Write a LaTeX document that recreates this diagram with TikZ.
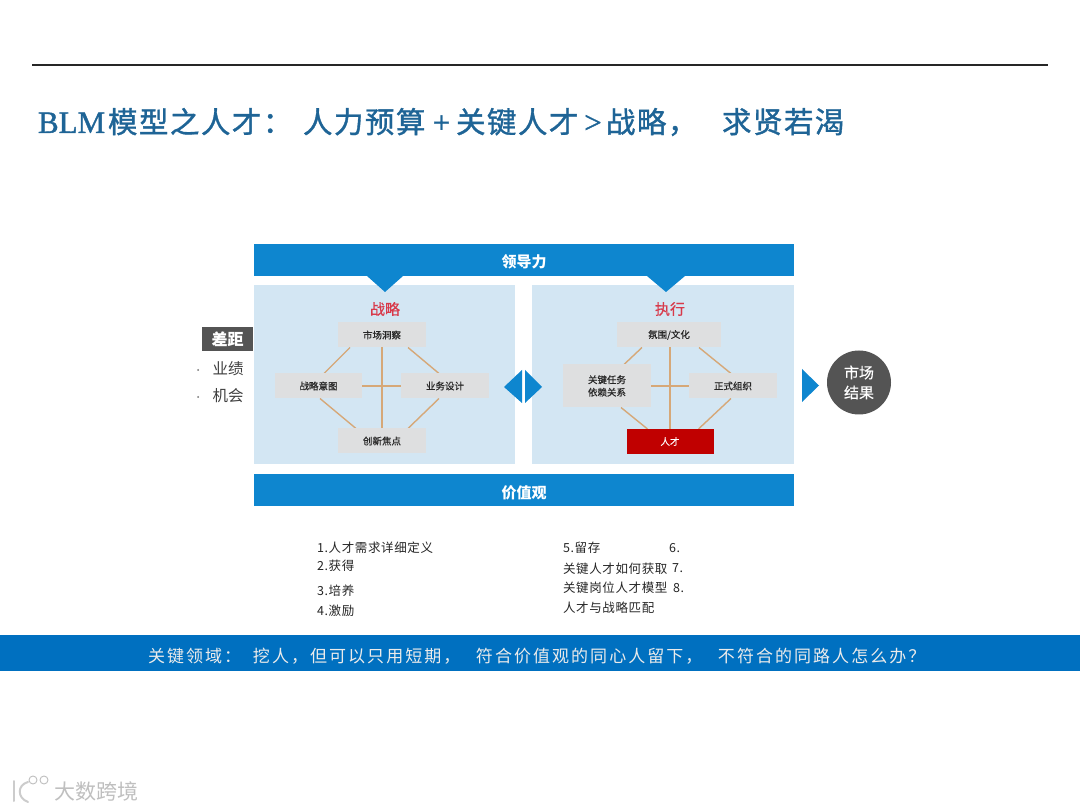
\documentclass[tikz,border=0pt]{standalone}
\usepackage{fontspec}
\setmainfont{Noto Sans CJK SC}
\newfontfamily\latinserif[FakeBold=1.2]{Liberation Serif}
\newfontfamily\widecjk[LetterSpace=5,FakeBold=1.2]{Noto Sans CJK SC}
\newfontfamily\boldish[FakeBold=0.5]{Noto Sans CJK SC}
\newfontfamily\listcjk[LetterSpace=5]{Noto Sans CJK SC}
\newfontfamily\bandcjk[LetterSpace=12]{Noto Sans CJK SC}
\definecolor{barblue}{HTML}{0E86CF}
\definecolor{panelblue}{HTML}{D3E6F3}
\definecolor{boxgray}{HTML}{DEDFE0}
\definecolor{linkorange}{HTML}{D6A878}
\definecolor{darkgray}{HTML}{545454}
\definecolor{titleblue}{HTML}{1E6496}
\definecolor{bandblue}{HTML}{0070C0}
\definecolor{talentred}{HTML}{C00000}
\definecolor{headred}{HTML}{D8394A}
\newcommand{\seg}[2]{\makebox[#1pt][l]{#2}}
\newcommand{\bigserif}{\latinserif\fontsize{31}{32}\selectfont}
\tikzset{
  x=1pt,y=-1pt,
  px/.style={inner sep=0pt,outer sep=0pt},
  bar/.style={px,fill=barblue,text=white,font=\fontsize{15}{17}\selectfont\bfseries,minimum width=540pt,minimum height=32pt},
  panel/.style={px,fill=panelblue,minimum height=179pt},
  cell/.style={px,fill=boxgray,text=black!85,font=\fontsize{9.5}{12.5}\selectfont\boldish,align=center,minimum width=88pt,minimum height=25pt},
  head/.style={px,text=headred,font=\fontsize{15}{17}\selectfont\boldish},
  link/.style={draw=linkorange,line width=1.4pt},
  tri/.style={fill=barblue},
  listitem/.style={px,anchor=west,text=black!85,text height=9pt,text depth=3pt,font=\fontsize{12.5}{14}\selectfont\listcjk},
  sidetext/.style={px,text=black!75,font=\fontsize{15.5}{18}\selectfont},
}
\begin{document}
\begin{tikzpicture}
\useasboundingbox (0,0) rectangle (1080,810);
\fill[white] (0,0) rectangle (1080,810);
% top rule
\coordinate (ruleL) at (32,65);
\coordinate (ruleR) at (1048,65);
\draw[black!85,line width=1.3pt] (ruleL) -- (ruleR);
% title
\node[px,anchor=west,text=titleblue,font=\fontsize{29.5}{32}\selectfont] (title) at (38,122)
 {\seg{70}{\bigserif BLM}\seg{195}{\widecjk 模型之人才：}\seg{124}{\widecjk 人力预算}\makebox[29pt]{\bigserif +}\seg{124}{\widecjk 关键人才}\makebox[26pt]{\bigserif >}\seg{116}{\widecjk 战略，}{\widecjk 求贤若渴}};
% panels
\node[panel,minimum width=261pt] (panelL) at (384.5,374.5) {};
\node[panel,minimum width=262pt] (panelR) at (663,374.5) {};
% bars
\node[bar] (leader) at (524,260) {\raisebox{-2.5pt}[13pt][2pt]{领导力}};
\node[bar] (values) at (524,490) {\raisebox{-2.5pt}[13pt][2pt]{价值观}};
\fill[tri] (367,276) -- (385,292) -- (403,276) -- cycle;
\fill[tri] (647,276) -- (666,292) -- (685,276) -- cycle;
% heads
\node[head] (hL) at (385,309) {战略};
\node[head] (hR) at (670,309) {执行};
% left cells: links underneath, boxes named first for anchors
\path (382,335) node[px,minimum width=88pt,minimum height=25pt] (a1) {}
      (318.5,386) node[px,minimum width=87pt,minimum height=25pt] (a2) {}
      (445,386) node[px,minimum width=88pt,minimum height=25pt] (a3) {}
      (382,441) node[px,minimum width=88pt,minimum height=25pt] (a4) {};
\draw[link] ([xshift=12pt]a1.south west) -- ([xshift=49pt]a2.north west);
\draw[link] ([xshift=-18pt]a1.south east) -- ([xshift=38pt]a3.north west);
\draw[link] ([xshift=45pt]a2.south west) -- ([xshift=18pt]a4.north west);
\draw[link] ([xshift=38pt]a3.south west) -- ([xshift=-18pt]a4.north east);
\draw[link] (a1) -- (a4);
\draw[link] (a2) -- (a3);
\node[cell] (a1t) at (a1) {市场洞察};
\node[cell] (a4t) at (a4) {创新焦点};
\node[cell,minimum width=87pt] (a2t) at (a2) {战略意图};
\node[cell] (a3t) at (a3) {业务设计};
% right cells
\path (669,335) node[px,minimum width=104pt,minimum height=25pt] (b1) {}
      (607,386) node[px,minimum width=88pt,minimum height=43pt] (b2) {}
      (733,386) node[px,minimum width=88pt,minimum height=25pt] (b3) {}
      (670,441.5) node[px,minimum width=87pt,minimum height=25pt] (b4) {};
\draw[link] ([xshift=25pt]b1.south west) -- ([xshift=61pt]b2.north west);
\draw[link] ([xshift=-22pt]b1.south east) -- ([xshift=42pt]b3.north west);
\draw[link] ([xshift=58pt]b2.south west) -- ([xshift=21pt]b4.north west);
\draw[link] ([xshift=42pt]b3.south west) -- ([xshift=-15pt]b4.north east);
\draw[link] (b1.south -| b4.north) -- (b4.north);
\draw[link] (b2.east) -- (b3.west);
\node[cell,minimum width=104pt] (b1t) at (b1) {氛围/文化};
\node[cell,minimum height=43pt] (b2t) at (b2) {关键任务\\依赖关系};
\node[cell] (b3t) at (b3) {正式组织};
\node[cell,fill=talentred,text=white,minimum width=87pt] (b4t) at (b4) {人才};
% gap
\node[px,fill=darkgray,text=white,minimum width=51pt,minimum height=24pt,font=\fontsize{16}{18}\selectfont\bfseries] (gap) at (227.5,339) {差距};
\node[sidetext] (g1) at (228,369) {业绩};
\node[sidetext] (g2) at (228,396) {机会};
\fill[black!55] (198,370) circle (1pt) (198,397) circle (1pt);
% double arrow
\fill[tri] (522,370) -- (504,387) -- (522,403) -- cycle;
\fill[tri] (525,370) -- (542,387) -- (525,403) -- cycle;
% market result
\fill[tri] (802,369) -- (819,385.5) -- (802,402) -- cycle;
\node[circle,px,fill=darkgray,text=white,minimum size=64pt,align=center,font=\fontsize{15}{20}\selectfont\boldish] (market) at (859,382.5) {市场\\结果};
% lists
\node[listitem] (l1) at (317,549) {1.人才需求详细定义};
\node[listitem] (l2) at (317,567) {2.获得};
\node[listitem] (l3) at (317,592) {3.培养};
\node[listitem] (l4) at (317,612) {4.激励};
\node[listitem] (r1) at (563,549) {5.留存};
\node[listitem] (r2) at (563,570) {关键人才如何获取};
\node[listitem] (r3) at (563,589) {关键岗位人才模型};
\node[listitem] (r4) at (563,609) {人才与战略匹配};
\node[listitem] (n6) at (669,549) {6.};
\node[listitem] (n7) at (672,569) {7.};
\node[listitem] (n8) at (673,589) {8.};
% band
\node[px,fill=bandblue,minimum width=1080pt,minimum height=36pt] (band) at (540,653) {};
\node[px,anchor=west,text=white!92!black,font=\fontsize{17}{19}\selectfont\bandcjk] (bandtext) at (148,656)
 {\seg{105}{关键领域：}\seg{223}{挖人，但可以只用短期，}\seg{242}{符合价值观的同心人留下，}不符合的同路人怎么办？};
% watermark
\draw[black!20,line width=2pt,line cap=round] (14,781) -- (14,801);
\draw[black!20,line width=2pt,line cap=round] (28,782) .. controls (17,785) and (17,798) .. (28,802);
\draw[black!25,line width=.9pt] (33,780) circle (4pt) (44,780) circle (4pt);
\node[px,text=black!25,font=\fontsize{21}{23}\selectfont] (mark) at (96,791) {大数跨境};
\end{tikzpicture}
\end{document}
